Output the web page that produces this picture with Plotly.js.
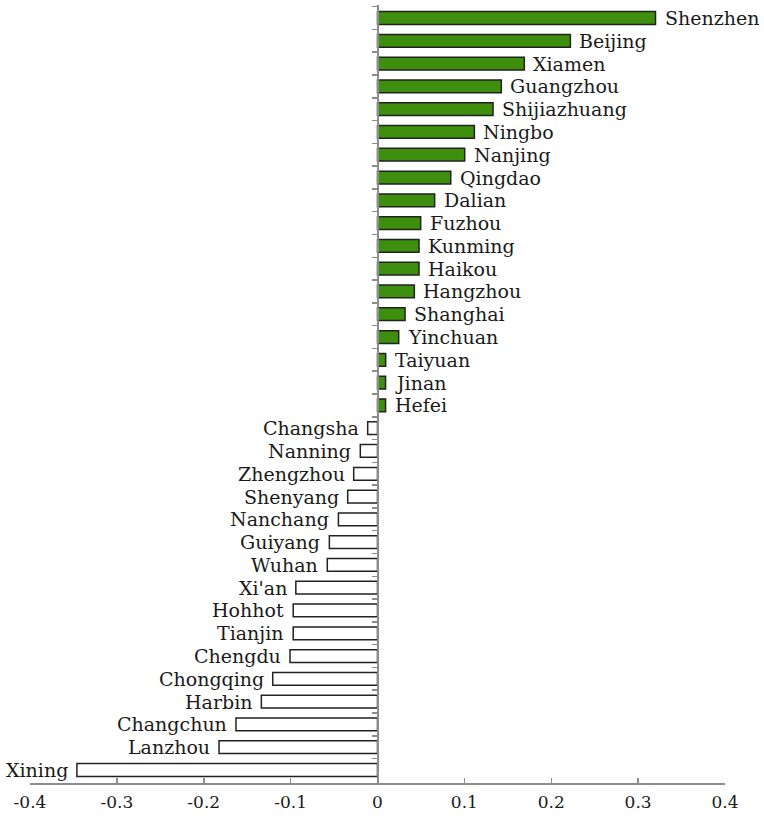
<!DOCTYPE html>
<html>
<head>
<meta charset="utf-8">
<script src="https://cdn.plot.ly/plotly-3.0.1.min.js"></script>
<style>html,body{margin:0;padding:0;background:#fff;}#chart{width:764px;height:817px;}</style>
</head>
<body>
<div id="chart"></div>
<script>
const cities = ["Shenzhen","Beijing","Xiamen","Guangzhou","Shijiazhuang","Ningbo","Nanjing","Qingdao","Dalian","Fuzhou","Kunming","Haikou","Hangzhou","Shanghai","Yinchuan","Taiyuan","Jinan","Hefei","Changsha","Nanning","Zhengzhou","Shenyang","Nanchang","Guiyang","Wuhan","Xi'an","Hohhot","Tianjin","Chengdu","Chongqing","Harbin","Changchun","Lanzhou","Xining"];
const values = [0.320,0.222,0.169,0.1425,0.133,0.1115,0.1004,0.0843,0.0658,0.0497,0.0478,0.0478,0.0424,0.0317,0.0244,0.0094,0.0093,0.0093,-0.0113,-0.0198,-0.0274,-0.0343,-0.045,-0.0554,-0.0578,-0.094,-0.097,-0.097,-0.1007,-0.1206,-0.1337,-0.1629,-0.1824,-0.346];
const xTicks = [-0.4,-0.3,-0.2,-0.1,0,0.1,0.2,0.3,0.4];
const xTickText = ["-0.4","-0.3","-0.2","-0.1","0","0.1","0.2","0.3","0.4"];

const serif = "DejaVu Serif";
const fills = values.map(v => v >= 0 ? '#3f8f0f' : '#ffffff');
const trace = {
  type: 'bar', orientation: 'h', x: values, y: cities,
  marker: {color: fills, line: {color: '#222222', width: 1.5}},
  width: 0.56, hoverinfo: 'x+y'
};
const annotations = cities.map((c, i) => ({
  x: values[i], y: c, xref: 'x', yref: 'y', text: c, showarrow: false,
  xanchor: values[i] >= 0 ? 'left' : 'right', yanchor: 'middle',
  xshift: values[i] >= 0 ? 7 : -7, yshift: 0,
  font: {family: serif, size: 19, color: '#1a1a1a'}
}));
const layout = {
  width: 764, height: 817,
  margin: {l: 30, r: 39, t: 5, b: 34},
  paper_bgcolor: '#fff', plot_bgcolor: '#fff',
  showlegend: false,
  font: {family: serif},
  xaxis: {
    range: [-0.4, 0.4], tickvals: xTicks, ticktext: xTickText,
    showgrid: false, zeroline: false, showline: true, linecolor: '#8c8c8c', linewidth: 2,
    ticks: 'inside', ticklen: 5, tickcolor: '#8c8c8c', tickwidth: 1.5, ticklabelstandoff: 3,
    tickfont: {family: serif, size: 17, color: '#1a1a1a'}
  },
  yaxis: {
    type: 'category', autorange: 'reversed', anchor: 'free', position: 0.5,
    showgrid: false, zeroline: false, showline: true, linecolor: '#8c8c8c', linewidth: 2,
    ticks: 'outside', ticklen: 5, tickcolor: '#8c8c8c', tickwidth: 1.5, tickson: 'boundaries',
    showticklabels: false
  },
  annotations: annotations
};
Plotly.newPlot('chart', [trace], layout, {displayModeBar: false, staticPlot: true});
</script>
</body>
</html>
